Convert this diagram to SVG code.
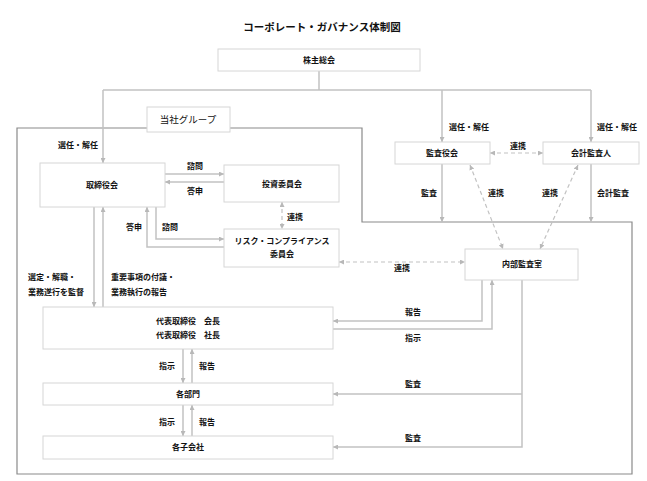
<svg xmlns="http://www.w3.org/2000/svg" width="647" height="481" viewBox="0 0 647 481">
<style>
  text { font-family: "Noto Sans CJK JP", "Noto Sans", sans-serif; fill: #111; }
  .t { font-size: 8px; font-weight: bold; }
  .c { text-anchor: middle; }
  .title { font-size: 10.5px; text-anchor: middle; font-weight: bold; }
  .box { fill: #fff; stroke: #d6d6d6; stroke-width: 1; }
  .ln { fill: none; stroke: #c2c2c2; stroke-width: 1.5; }
  .ds { fill: none; stroke: #c2c2c2; stroke-width: 1.2; stroke-dasharray: 4 3; }
  .frame { fill: none; stroke: #8a8a8a; stroke-width: 1.2; }
</style>
<defs>
  <marker id="arr" viewBox="0 0 6 6" refX="6" refY="3" markerWidth="5" markerHeight="5" markerUnits="userSpaceOnUse" orient="auto-start-reverse">
    <path d="M0,0 L6,3 L0,6 z" fill="#b8b8b8"/>
  </marker>
</defs>
<rect width="647" height="481" fill="#fff"/>
<text class="title" x="322" y="31">コーポレート・ガバナンス体制図</text>

<path class="frame" d="M147,128 H17 V474 H632 V222 H362 V128 H230"/>

<g id="connectors">
  <path class="ln" d="M319,71 V90 M103,90 H591"/>
  <path class="ln" d="M103,90 V163" marker-end="url(#arr)"/>
  <path class="ln" d="M442,90 V142" marker-end="url(#arr)"/>
  <path class="ln" d="M591,90 V142" marker-end="url(#arr)"/>
  <path class="ln" d="M165,174 H224" marker-end="url(#arr)"/>
  <path class="ln" d="M224,182 H165" marker-end="url(#arr)"/>
  <path class="ds" d="M282,202 V229" marker-start="url(#arr)" marker-end="url(#arr)"/>
  <path class="ln" d="M156,207 V239 H224" marker-end="url(#arr)"/>
  <path class="ln" d="M224,247 H147 V207" marker-end="url(#arr)"/>
  <path class="ln" d="M94,207 V307" marker-end="url(#arr)"/>
  <path class="ln" d="M103,307 V207" marker-end="url(#arr)"/>
  <path class="ln" d="M183,349 V383" marker-end="url(#arr)"/>
  <path class="ln" d="M192,383 V349" marker-end="url(#arr)"/>
  <path class="ln" d="M183,405 V436" marker-end="url(#arr)"/>
  <path class="ln" d="M192,436 V405" marker-end="url(#arr)"/>
  <path class="ds" d="M490,153 H543" marker-start="url(#arr)" marker-end="url(#arr)"/>
  <path class="ln" d="M442,164 V222" marker-end="url(#arr)"/>
  <path class="ln" d="M591,164 V222" marker-end="url(#arr)"/>
  <path class="ds" d="M470,165 L503,249" marker-start="url(#arr)" marker-end="url(#arr)"/>
  <path class="ds" d="M578,165 L540,249" marker-start="url(#arr)" marker-end="url(#arr)"/>
  <path class="ds" d="M339,262 H465" marker-start="url(#arr)" marker-end="url(#arr)"/>
  <path class="ln" d="M482,280 V321 H333" marker-end="url(#arr)"/>
  <path class="ln" d="M333,329 H492 V280" marker-end="url(#arr)"/>
  <path class="ln" d="M522,280 V447 H333" marker-end="url(#arr)"/>
  <path class="ln" d="M522,394 H333" marker-end="url(#arr)"/>
</g>

<g id="labels">
  <text class="t" x="78" y="148" text-anchor="middle">選任・解任</text>
  <text class="t" x="469" y="130" text-anchor="middle">選任・解任</text>
  <text class="t" x="617" y="130" text-anchor="middle">選任・解任</text>
  <text class="t c" x="195" y="169">諮問</text>
  <text class="t c" x="195" y="194">答申</text>
  <text class="t c" x="295" y="220">連携</text>
  <text class="t c" x="134" y="230">答申</text>
  <text class="t c" x="170" y="230">諮問</text>
  <text class="t" x="28" y="280">選定・解職・</text>
  <text class="t" x="28" y="295">業務遂行を監督</text>
  <text class="t" x="111" y="280">重要事項の付議・</text>
  <text class="t" x="111" y="295">業務執行の報告</text>
  <text class="t c" x="518" y="149">連携</text>
  <text class="t c" x="429" y="196">監査</text>
  <text class="t c" x="496" y="196">連携</text>
  <text class="t c" x="550" y="196">連携</text>
  <text class="t c" x="613" y="196">会計監査</text>
  <text class="t c" x="402" y="271">連携</text>
  <text class="t c" x="413" y="315">報告</text>
  <text class="t c" x="413" y="341">指示</text>
  <text class="t c" x="167" y="369">指示</text>
  <text class="t c" x="207" y="369">報告</text>
  <text class="t c" x="413" y="387">監査</text>
  <text class="t c" x="167" y="425">指示</text>
  <text class="t c" x="207" y="425">報告</text>
  <text class="t c" x="413" y="441">監査</text>
</g>

<g id="n-shareholders"><rect class="box" x="218" y="49" width="202" height="22"/><text class="t c" x="319" y="63">株主総会</text></g>
<g id="n-group"><rect class="box" x="147" y="107" width="83" height="25"/><text class="c" x="188" y="123" font-size="9.5">当社グループ</text></g>
<g id="n-board"><rect class="box" x="40" y="163" width="125" height="44"/><text class="t c" x="102" y="188">取締役会</text></g>
<g id="n-invest"><rect class="box" x="224" y="165" width="115" height="37"/><text class="t c" x="282" y="187">投資委員会</text></g>
<g id="n-risk"><rect class="box" x="224" y="229" width="115" height="38"/><text class="t c" x="282" y="244">リスク・コンプライアンス</text><text class="t c" x="282" y="257">委員会</text></g>
<g id="n-auditboard"><rect class="box" x="395" y="142" width="95" height="22"/><text class="t c" x="442" y="156">監査役会</text></g>
<g id="n-accountant"><rect class="box" x="543" y="142" width="96" height="22"/><text class="t c" x="591" y="156">会計監査人</text></g>
<g id="n-internal"><rect class="box" x="465" y="249" width="113" height="31"/><text class="t c" x="522" y="267">内部監査室</text></g>
<g id="n-ceo"><rect class="box" x="43" y="307" width="290" height="42"/><text class="t c" x="188" y="324">代表取締役　会長</text><text class="t c" x="188" y="338">代表取締役　社長</text></g>
<g id="n-depts"><rect class="box" x="43" y="383" width="290" height="22"/><text class="t c" x="188" y="397">各部門</text></g>
<g id="n-subs"><rect class="box" x="43" y="436" width="290" height="23"/><text class="t c" x="188" y="450">各子会社</text></g>
</svg>
